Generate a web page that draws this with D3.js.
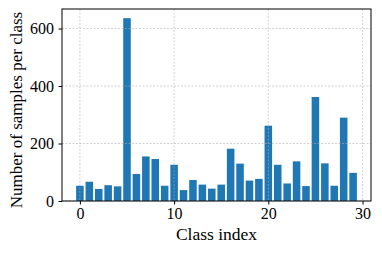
<!DOCTYPE html>
<meta charset="utf-8">
<style>
    body { margin: 0; background: #fff; }
    text { font-family: "Liberation Serif", "DejaVu Serif", serif; fill: #000; }
    .grid line { stroke: #b0b0b0; stroke-width: 0.8px; stroke-dasharray: 2,1.5; stroke-opacity: 0.7; }
</style>
<svg width="382" height="254"></svg>
<script src="https://cdnjs.cloudflare.com/ajax/libs/d3/7.8.5/d3.min.js"></script>
<script>
    // samples per class
    let classes = d3.range(30);
    let counts = [53, 67, 42, 55, 51, 636, 94, 155, 146, 53,
                  126, 38, 73, 57, 43, 57, 182, 130, 71, 77,
                  262, 126, 61, 138, 52, 362, 131, 53, 290, 98];
    let xTicks = [0, 10, 20, 30];
    let yTicks = [0, 200, 400, 600];

    let svg = d3.select("svg");
    let m = {left: 62, right: 371, top: 9, bottom: 201};

    let x = d3.scaleLinear().domain([-1.9, 30.9]).range([m.left, m.right]);
    let y = d3.scaleLinear().domain([0, 668]).range([m.bottom, m.top]);

    let barW = x(0.8) - x(0);

    svg.append("g")
            .selectAll("rect")
            .data(classes)
            .enter().append("rect")
            .attr("x", (d) => x(d - 0.4))
            .attr("width", barW)
            .attr("y", (d) => y(counts[d]))
            .attr("height", (d) => y(0) - y(counts[d]))
            .attr("fill", "#1f77b4");

    let grid = svg.append("g").attr("class", "grid");
    grid.selectAll("line.v")
            .data(xTicks)
            .enter().append("line")
            .attr("x1", (d) => x(d)).attr("x2", (d) => x(d))
            .attr("y1", m.top).attr("y2", m.bottom);
    grid.selectAll("line.h")
            .data(yTicks)
            .enter().append("line")
            .attr("y1", (d) => y(d)).attr("y2", (d) => y(d))
            .attr("x1", m.left).attr("x2", m.right);

    let xAxis = svg.append("g")
            .attr("transform", "translate(0," + m.bottom + ")")
            .call(d3.axisBottom(x).tickValues(xTicks).tickSize(3.5).tickPadding(3));
    let yAxis = svg.append("g")
            .attr("transform", "translate(" + m.left + ",0)")
            .call(d3.axisLeft(y).tickValues(yTicks).tickSize(3.5).tickPadding(4.5));

    [xAxis, yAxis].forEach((a) => {
        a.select(".domain").remove();
        a.selectAll("text").style("font-size", "16px").style("font-family", "Liberation Serif");
        a.selectAll("line").attr("stroke", "#000");
    });

    svg.append("rect")
            .attr("x", m.left).attr("y", m.top)
            .attr("width", m.right - m.left).attr("height", m.bottom - m.top)
            .attr("fill", "none").attr("stroke", "#000").attr("stroke-width", 1);

    svg.append("text")
            .attr("x", (m.left + m.right) / 2)
            .attr("y", 240)
            .attr("text-anchor", "middle")
            .style("font-size", "17.5px")
            .text("Class index");

    svg.append("text")
            .attr("transform", "translate(22,110) rotate(-90)")
            .attr("text-anchor", "middle")
            .style("font-size", "17px")
            .text("Number of samples per class");
</script>
